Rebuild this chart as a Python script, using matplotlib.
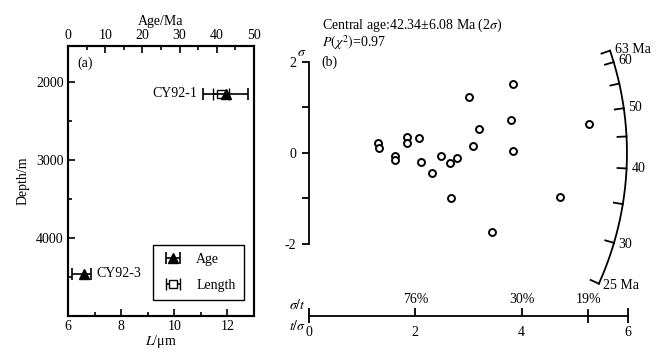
"""Depth profile of fission-track data (a) and radial plot of single-grain ages (b)."""
import numpy as np
import matplotlib
matplotlib.use('Agg')
import matplotlib.pyplot as plt

plt.rcParams['font.family'] = ['Liberation Serif', 'DejaVu Serif']
plt.rcParams['mathtext.fontset'] = 'stix'
plt.rcParams['font.size'] = 10

# (a) sample data
samples = ['CY92-1', 'CY92-3']
age_depth = [2150, 4460]
age_ma = [42.34, 4.3]
age_err_lo = [6.08, 3.1]
age_err_hi = [6.08, 1.9]
len_depth = [2150]
len_um = [11.75]
len_err = [0.3]

# (b) radial plot data: x = t/sigma, y = standardised estimate
rad_x = [1.29, 1.31, 1.62, 1.62, 1.84, 1.85, 2.07, 2.11, 2.31, 2.48, 2.65,
         2.79, 3.00, 3.08, 3.19, 3.80, 3.84, 3.84, 5.26, 2.67, 3.45, 4.72]
rad_y = [0.21, 0.10, -0.07, -0.15, 0.36, 0.21, 0.32, -0.19, -0.45, -0.06, -0.23,
         -0.10, 1.24, 0.16, 0.53, 0.73, 1.52, 0.05, 0.64, -1.00, -1.74, -0.97]
central_age = 42.34
arc_ages = [25, 30, 35, 40, 45, 50, 55, 60, 63]
arc_labels = {25: '25 Ma', 30: '30', 40: '40', 50: '50', 60: '60', 63: '63 Ma'}
prec_pos = [2, 4, 5.25]
prec_labels = ['76%', '30%', '19%']

W, H = 668, 355
fig = plt.figure(figsize=(W / 100, H / 100), dpi=100)

# ---------------- panel (a) ----------------
ax = fig.add_axes([68 / W, (H - 316) / H, 186 / W, 270 / H])
ax_age = ax.twiny()
for a in (ax, ax_age):
    for sp in a.spines.values():
        sp.set_linewidth(1.5)

ax.set_xlim(6, 13)
ax.set_ylim(5000, 1540)
ax.set_xticks([6, 8, 10, 12])
ax.set_xticks([7, 9, 11], minor=True)
ax.set_yticks([2000, 3000, 4000])
ax.set_yticks([2500, 3500, 4500], minor=True)
ax.tick_params(which='both', direction='in', width=1.2, pad=3)
ax.tick_params(which='major', length=5)
ax.tick_params(which='minor', length=3)
ax.set_xlabel('$L$/μm', labelpad=0)
ax.set_ylabel('Depth/m', labelpad=5)

ax_age.set_xlim(0, 50)
ax_age.set_xticks([0, 10, 20, 30, 40, 50])
ax_age.set_xticks([5, 15, 25, 35, 45], minor=True)
ax_age.tick_params(which='both', direction='in', width=1.2, pad=3)
ax_age.tick_params(which='major', length=5)
ax_age.tick_params(which='minor', length=3)
ax_age.set_xlabel('Age/Ma', labelpad=3)

h_len = ax.errorbar(len_um, len_depth, xerr=len_err, fmt='s', ms=6, mfc='white',
                    mec='black', mew=1.0, ecolor='black', elinewidth=1.2,
                    capsize=4.5, capthick=1.2, label='Length')
h_age = ax_age.errorbar(age_ma, age_depth, xerr=[age_err_lo, age_err_hi], fmt='^',
                        ms=7, color='black', elinewidth=1.2, capsize=4.5,
                        capthick=1.2, label='Age')
ax_age.annotate(samples[0], (age_ma[0] - age_err_lo[0], age_depth[0]),
                xytext=(-4, 0), textcoords='offset points', ha='right', va='center')
ax_age.annotate(samples[1], (age_ma[1] + age_err_hi[1], age_depth[1]),
                xytext=(4, 0), textcoords='offset points', ha='left', va='center')
ax_age.text(0.05, 0.935, '(a)', transform=ax_age.transAxes, ha='left', va='center')
leg = ax_age.legend([h_age, h_len], ['Age', 'Length'], loc='lower right',
                    bbox_to_anchor=(0.946, 0.059), borderaxespad=0, fancybox=False,
                    edgecolor='black', framealpha=1, handlelength=1.7,
                    labelspacing=0.9, borderpad=0.6)
leg.get_frame().set_linewidth(1.0)

# ---------------- panel (b) ----------------
sx_px, sy_px = 53.17, 45.5
y_top, y_bot = 2.7, -3.9
bx = fig.add_axes([309 / W, (H - (153 - y_bot * sy_px)) / H,
                   6 * sx_px / W, (y_top - y_bot) * sy_px / H])
bx.set_xlim(0, 6)
bx.set_ylim(y_bot, y_top)
bx.patch.set_visible(False)
axis_y = -163 / sy_px
for side in ('top', 'right'):
    bx.spines[side].set_visible(False)
bx.spines['left'].set_bounds(-2, 2)
bx.spines['left'].set_linewidth(1.3)
bx.spines['bottom'].set_position(('data', axis_y))
bx.spines['bottom'].set_bounds(0, 6)
bx.spines['bottom'].set_linewidth(1.3)
bx.set_yticks([-2, -1, 0, 1, 2], labels=['-2', '', '0', '', '2'])
bx.tick_params(axis='y', direction='out', length=5, width=1.3, pad=4)
bx.set_xticks([0, 2, 4, 6])
bx.set_xticks([0, 6, 5.25], minor=True)
bx.xaxis.remove_overlapping_locs = False
bx.tick_params(axis='x', which='major', direction='in', length=6, width=1.3, pad=7)
bx.tick_params(axis='x', which='minor', direction='out', length=5, width=1.3)
# 19% tick points inward only
bx.plot([prec_pos[2], prec_pos[2]], [axis_y, axis_y + 6 / sy_px], color='black',
        lw=1.3, clip_on=False)
for xp, lab in zip(prec_pos, prec_labels):
    bx.annotate(lab, (xp, axis_y), xytext=(0, 7), textcoords='offset points',
                ha='center', va='bottom')
bx.annotate(r'$\sigma/t$', (0, axis_y), xytext=(-8, 8), textcoords='offset points',
            ha='center', va='center', fontsize=10)
bx.annotate(r'$t/\sigma$', (0, axis_y), xytext=(-8, -7), textcoords='offset points',
            ha='center', va='center', fontsize=10)
bx.annotate(r'$\sigma$', (0, 2), xytext=(-5, 7), textcoords='offset points',
            ha='center', va='center', fontsize=10)

bx.plot(rad_x, rad_y, 'o', ms=5, mfc='white', mec='black', mew=1.4, clip_on=False)

bx.text(0.24, 2.81, 'Central age:42.34±6.08 Ma (2$\\sigma$)', ha='left', va='center')
bx.text(0.24, 2.42, '$P(\\chi^2)$=0.97', ha='left', va='center')
bx.text(0.24, 2.0, '(b)', ha='left', va='center')

# age arc, drawn as a circle in display space
k = sy_px / sx_px
r = 5.98
ages = np.linspace(min(arc_ages), max(arc_ages), 200)
phi = np.arctan(np.log(ages / central_age) * k)
bx.plot(r * np.cos(phi), r * np.sin(phi) / k, color='black', lw=1.3, clip_on=False)
for t in arc_ages:
    p = np.arctan(np.log(t / central_age) * k)
    bx.plot([r * np.cos(p), (r - 0.17) * np.cos(p)],
            [r * np.sin(p) / k, (r - 0.17) * np.sin(p) / k],
            color='black', lw=1.3, clip_on=False)
    if t in arc_labels:
        bx.text((r + 0.09) * np.cos(p), (r + 0.09) * np.sin(p) / k, arc_labels[t],
                ha='left', va='center')

fig.savefig('out.png', dpi=100)
